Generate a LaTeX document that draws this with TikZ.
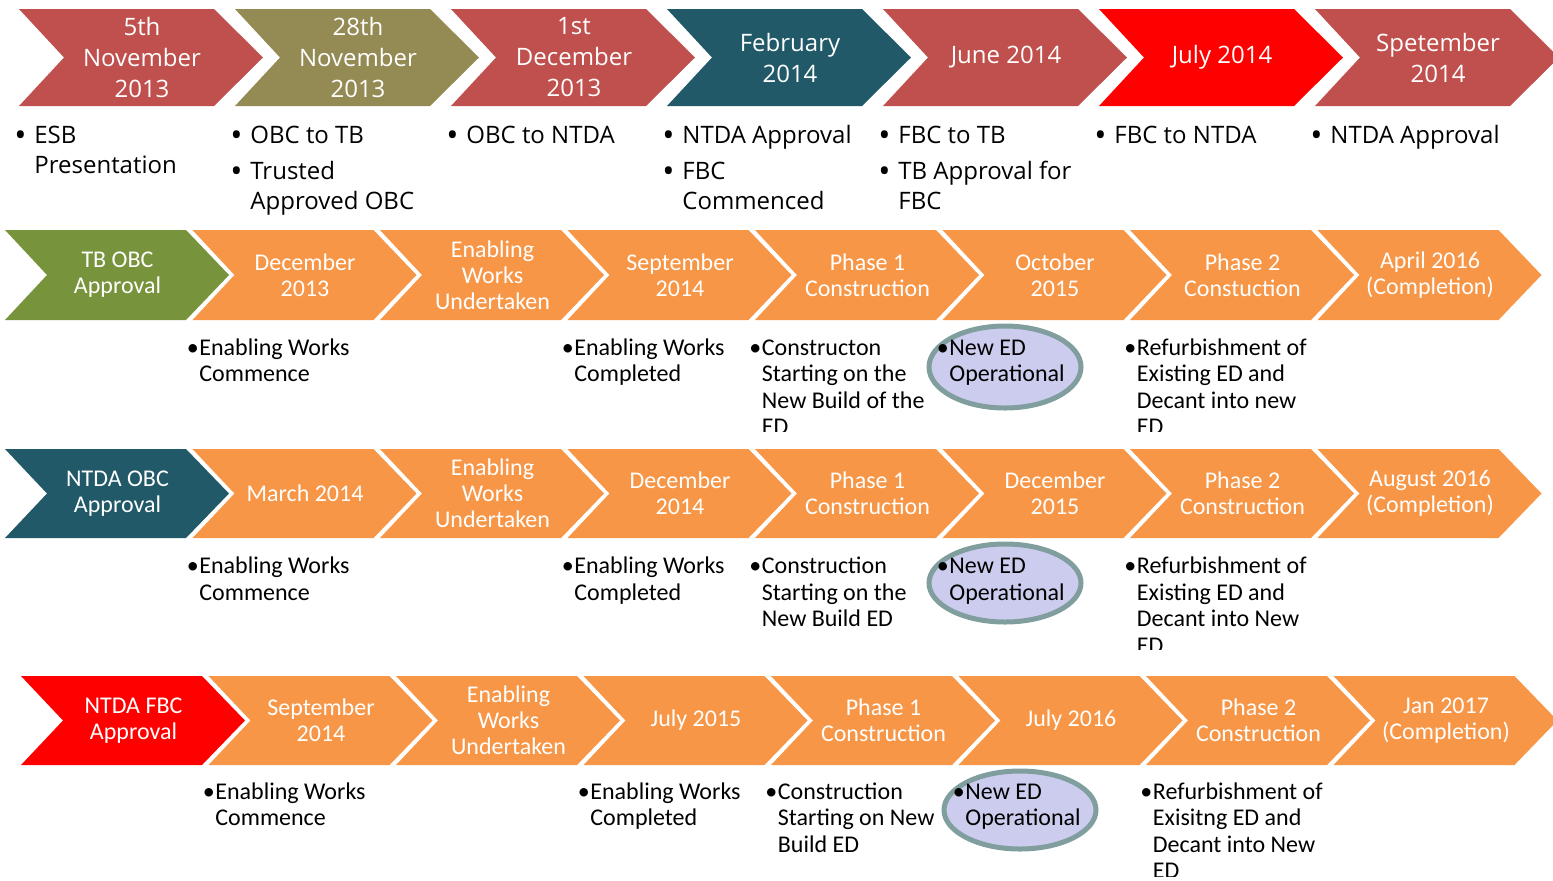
\documentclass[tikz,border=0pt]{standalone}
\usepackage{graphicx}
\usepackage{fontspec}
\setmainfont{Carlito}
\newfontfamily\osans{Open Sans}
\definecolor{cbrick}{HTML}{C0504D}
\definecolor{colive}{HTML}{948A54}
\definecolor{cteal}{HTML}{215968}
\definecolor{cred}{HTML}{FF0000}
\definecolor{cgreen}{HTML}{77933C}
\definecolor{corange}{HTML}{F79646}
\definecolor{cellfill}{HTML}{CCCCEE}
\definecolor{celldraw}{HTML}{809E9E}
\newlength\bw
\newcommand\bdot{•}
% chevron: x0, ytop, ybot, top-right offset, tip offset, notch offset, colour
\newcommand\mychev[7]{\fill[#7] ({#1},#2) -- ({#1+#4},#2) -- ({#1+#5},{(#2+#3)/2}) -- ({#1+#4},#3) -- ({#1},#3) -- ({#1+#6},{(#2+#3)/2}) -- cycle;}
\newcommand\chevone[2]{\mychev{19+216*#1}{9}{106}{195}{244}{45}{#2}}
\newcommand\chevlow[5]{\mychev{#1+187.5*#2}{#3}{#4}{181}{224}{42}{#5}}
\newcommand\bl[1]{\begingroup\let\\\newline\hangindent=\bw\hangafter=1\noindent\makebox[\bw][l]{\bdot}#1\par\endgroup}
\newcommand\topbul[1]{\parbox[t]{130pt}{\osans\fontsize{12}{15}\selectfont\raggedright\setlength\parskip{3pt}\setlength\bw{10pt}\renewcommand\bdot{\raisebox{-0.12em}{\scalebox{1.35}{•}}}#1}}
\newcommand\lowbul[1]{\parbox[t]{110pt}{\fontsize{12}{13.25}\selectfont\raggedright\setlength\parskip{0pt}\setlength\bw{6.25pt}#1}}
\tikzset{
  toptxt/.style={text=white, align=center, font=\osans\fontsize{12}{15.5}\selectfont, inner sep=0pt},
  lowtxt/.style={text=white, align=center, font=\fontsize{12}{13}\selectfont, inner sep=0pt},
  bultxt/.style={anchor=base west, inner sep=0pt, text=black},
  edell/.style={draw=celldraw, fill=cellfill, line width=2.5pt}
}
\begin{document}
\begin{tikzpicture}[x=0.5pt,y=-0.5pt]
\useasboundingbox (0,0) rectangle (1553,880);
% ---------- row 1
\chevone{0}{cbrick}\chevone{1}{colive}\chevone{2}{cbrick}\chevone{3}{cteal}
\chevone{4}{cbrick}\chevone{5}{cred}\chevone{6}{cbrick}
\node[toptxt] (r1c1) at (142,57.5) {5th\\November\\2013};
\node[toptxt] (r1c2) at (358,57.5) {28th\\November\\2013};
\node[toptxt] (r1c3) at (574,57.5) {1st\\December\\2013};
\node[toptxt] (r1c4) at (790,57.5) {February\\2014};
\node[toptxt] (r1c5) at (1006,57.5) {June 2014};
\node[toptxt] (r1c6) at (1222,57.5) {July 2014};
\node[toptxt] (r1c7) at (1438,57.5) {Spetember\\2014};
\node[bultxt] (r1b1) at (14,143.5) {\topbul{\bl{ESB\\Presentation}}};
\node[bultxt] (r1b2) at (230,143.5) {\topbul{\bl{OBC to TB}\bl{Trusted\\Approved OBC}}};
\node[bultxt] (r1b3) at (446,143.5) {\topbul{\bl{OBC to NTDA}}};
\node[bultxt] (r1b4) at (662,143.5) {\topbul{\bl{NTDA Approval}\bl{FBC\\Commenced}}};
\node[bultxt] (r1b5) at (878,143.5) {\topbul{\bl{FBC to TB}\bl{TB Approval for\\FBC}}};
\node[bultxt] (r1b6) at (1094,143.5) {\topbul{\bl{FBC to NTDA}}};
\node[bultxt] (r1b7) at (1310,143.5) {\topbul{\bl{NTDA Approval}}};
% ---------- row 2
\chevlow{5}{0}{230}{320}{cgreen}
\foreach \i in {1,...,7}{\chevlow{5}{\i}{230}{320}{corange}}
\node[lowtxt] (r2c1) at (117.5,275) {TB OBC\\Approval};
\node[lowtxt] (r2c2) at (305,275) {December\\2013};
\node[lowtxt] (r2c3) at (492.5,275) {Enabling\\Works\\Undertaken};
\node[lowtxt] (r2c4) at (680,275) {September\\2014};
\node[lowtxt] (r2c5) at (867.5,275) {Phase 1\\Construction};
\node[lowtxt] (r2c6) at (1055,275) {October\\2015};
\node[lowtxt] (r2c7) at (1242.5,275) {Phase 2\\Constuction};
\node[lowtxt] (r2c8) at (1430,275) {April 2016\\(Completion)};
% ---------- row 3
\chevlow{5}{0}{449}{538}{cteal}
\foreach \i in {1,...,7}{\chevlow{5}{\i}{449}{538}{corange}}
\node[lowtxt] (r3c1) at (117.5,493.5) {NTDA OBC\\Approval};
\node[lowtxt] (r3c2) at (305,493.5) {March 2014};
\node[lowtxt] (r3c3) at (492.5,493.5) {Enabling\\Works\\Undertaken};
\node[lowtxt] (r3c4) at (680,493.5) {December\\2014};
\node[lowtxt] (r3c5) at (867.5,493.5) {Phase 1\\Construction};
\node[lowtxt] (r3c6) at (1055,493.5) {December\\2015};
\node[lowtxt] (r3c7) at (1242.5,493.5) {Phase 2\\Construction};
\node[lowtxt] (r3c8) at (1430,493.5) {August 2016\\(Completion)};
% ---------- row 4
\chevlow{21}{0}{676}{765}{cred}
\foreach \i in {1,...,7}{\chevlow{21}{\i}{676}{765}{corange}}
\node[lowtxt] (r4c1) at (133.5,720.5) {NTDA FBC\\Approval};
\node[lowtxt] (r4c2) at (321,720.5) {September\\2014};
\node[lowtxt] (r4c3) at (508.5,720.5) {Enabling\\Works\\Undertaken};
\node[lowtxt] (r4c4) at (696,720.5) {July 2015};
\node[lowtxt] (r4c5) at (883.5,720.5) {Phase 1\\Construction};
\node[lowtxt] (r4c6) at (1071,720.5) {July 2016};
\node[lowtxt] (r4c7) at (1258.5,720.5) {Phase 2\\Construction};
\node[lowtxt] (r4c8) at (1446,720.5) {Jan 2017\\(Completion)};
% ---------- ellipses
\draw[edell] (1005,367) ellipse [x radius=76, y radius=41];
\draw[edell] (1005,583) ellipse [x radius=76, y radius=39];
\draw[edell] (1020,810) ellipse [x radius=76, y radius=39];
% ---------- row 2 notes
\begin{scope}
\clip (0,322) rectangle (1553,431);
\node[bultxt] (r2b2) at (186.5,355) {\lowbul{\bl{Enabling Works\\Commence}}};
\node[bultxt] (r2b4) at (561.5,355) {\lowbul{\bl{Enabling Works\\Completed}}};
\node[bultxt] (r2b5) at (749,355) {\lowbul{\bl{Constructon\\Starting on the\\New Build of the\\ED}}};
\node[bultxt] (r2b6) at (936.5,355) {\lowbul{\bl{New ED\\Operational}}};
\node[bultxt] (r2b7) at (1124,355) {\lowbul{\bl{Refurbishment of\\Existing ED and\\Decant into new\\ED}}};
\end{scope}
% ---------- row 3 notes
\begin{scope}
\clip (0,540) rectangle (1553,649);
\node[bultxt] (r3b2) at (186.5,573.5) {\lowbul{\bl{Enabling Works\\Commence}}};
\node[bultxt] (r3b4) at (561.5,573.5) {\lowbul{\bl{Enabling Works\\Completed}}};
\node[bultxt] (r3b5) at (749,573.5) {\lowbul{\bl{Construction\\Starting on the\\New Build ED}}};
\node[bultxt] (r3b6) at (936.5,573.5) {\lowbul{\bl{New ED\\Operational}}};
\node[bultxt] (r3b7) at (1124,573.5) {\lowbul{\bl{Refurbishment of\\Existing ED and\\Decant into New\\ED}}};
\end{scope}
% ---------- row 4 notes
\begin{scope}
\clip (0,767) rectangle (1553,876);
\node[bultxt] (r4b2) at (202.5,799) {\lowbul{\bl{Enabling Works\\Commence}}};
\node[bultxt] (r4b4) at (577.5,799) {\lowbul{\bl{Enabling Works\\Completed}}};
\node[bultxt] (r4b5) at (765,799) {\lowbul{\bl{Construction\\Starting on New\\Build ED}}};
\node[bultxt] (r4b6) at (952.5,799) {\lowbul{\bl{New ED\\Operational}}};
\node[bultxt] (r4b7) at (1140,799) {\lowbul{\bl{Refurbishment of\\Exisitng ED and\\Decant into New\\ED}}};
\end{scope}
\end{tikzpicture}
\end{document}
